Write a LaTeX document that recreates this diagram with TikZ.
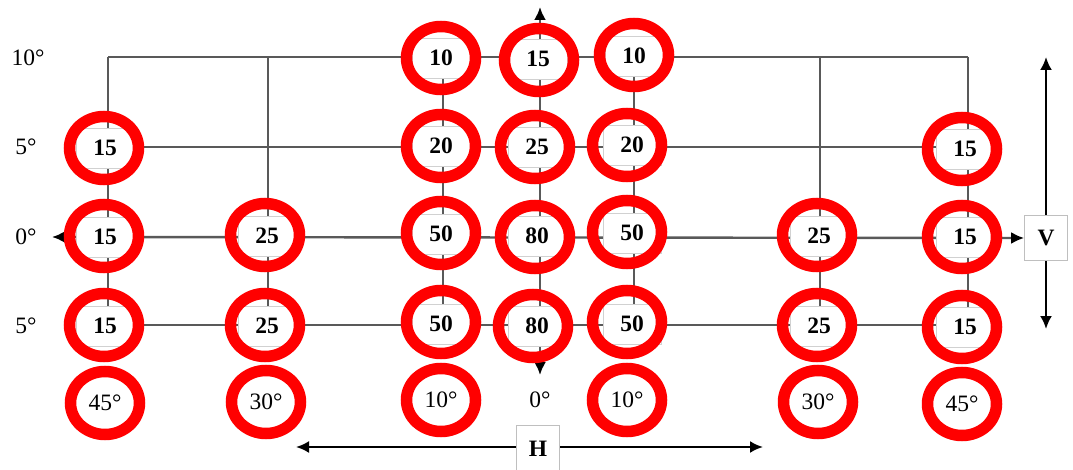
\documentclass[tikz,border=0pt]{standalone}
\usepackage{fontspec}
\setmainfont{Liberation Serif}
\usetikzlibrary{arrows.meta,shapes.geometric}
\tikzset{
  grid/.style={draw=black!65,line width=2.4pt},
  blkarrow/.style={draw=black,line width=2.2pt,{Latex[length=13pt,width=12pt]}-{Latex[length=13pt,width=12pt]}},
  gridarrow/.style={draw=black!65,line width=2.4pt,{Latex[length=13pt,width=12pt,color=black]}-{Latex[length=13pt,width=12pt,color=black]}},
  valbox/.style={fill=white,draw=black!18,line width=0.6pt,minimum width=58pt,minimum height=40pt,inner sep=0pt,font=\fontsize{23.5}{25}\selectfont\bfseries},
  degtext/.style={inner sep=1pt,font=\fontsize{23.5}{25}\selectfont},
  ring/.style={ellipse,draw=red,line width=11.5pt,minimum width=69pt,minimum height=63pt,inner sep=0pt},
  letterbox/.style={fill=white,draw=black!25,line width=0.8pt,minimum width=43pt,minimum height=45pt,inner sep=0pt,font=\fontsize{23.5}{25}\selectfont\bfseries}
}
\begin{document}
\begin{tikzpicture}[x=1pt,y=-1pt]
\useasboundingbox (0,0) rectangle (1073,470);
% grid coordinates
\foreach \c/\x in {1/108,2/268,3/443,4/540,5/634,6/820,7/968}{
  \foreach \r/\y in {1/57,2/147,3/237,4/325}{
    \coordinate (g\c\r) at (\x,\y);
  }
}
\coordinate (L) at (52,237);
\coordinate (T) at (540,7);
\coordinate (B) at (540,375);
\coordinate (Vt) at (1046,57);
\coordinate (Vb) at (1046,329);
\coordinate (Hl) at (296,447);
\coordinate (Hr) at (763,447);
% grid lines
\draw[grid] (g11) -- (g71);
\draw[grid] (g12) -- (g72);
\draw[grid] (g14) -- (g74);
\foreach \c in {1,2,3,5,6,7}{\draw[grid] (g\c1) -- (g\c4);}
\draw[gridarrow] (T) -- (B);
% V and H
\draw[blkarrow] (Vt) -- (Vb);
\node[letterbox] (V) at (1046,238) {V};
\draw[gridarrow] (L) -- (V.west);
\draw[blkarrow] (Hl) -- (Hr);
\node[letterbox,minimum height=48pt] (H) at (538,449) {H};
% row labels
\node[degtext] (r1) at (28,58) {10°};
\node[degtext] (r2) at (26,147) {5°};
\node[degtext] (r3) at (26,237) {0°};
\node[degtext] (r4) at (26,326) {5°};
% value boxes and rings
\foreach \n/\x/\y/\t in {
  a1/441/58/10, a2/538/59/15, a3/634/56/10,
  b1/105/148/15, b2/441/146/20, b3/537/147/25, b4/632/145/20, b5/965/149/15,
  c1/105/237/15, c2/267/236/25, c3/441/234/50, c4/537/236/80, c5/632/233/50, c6/819/236/25, c7/965/237/15,
  d1/105/326/15, d2/267/326/25, d3/441/324/50, d4/537/326/80, d5/632/324/50, d6/819/326/25, d7/965/327/15}{
  \node[valbox] (v\n) at (\x,\y) {\t};
}
\foreach \n/\x/\y in {
  a1/441/58, a2/539/60, a3/634/55,
  b1/104/148, b2/441/146, b3/535/147, b4/627/145, b5/962/149,
  c1/104/236, c2/265/235, c3/441/233, c4/535/237, c5/627/232, c6/817/235, c7/962/237,
  d1/104/325, d2/265/325, d3/441/322, d4/533/326, d5/627/322, d6/817/325, d7/962/327}{
  \node[ring] (e\n) at (\x,\y) {};
}
% column labels
\foreach \n/\x/\y/\t in {k1/105/403/45°, k2/266/402/30°, k3/441/400/10°, k5/627/400/10°, k6/818/402/30°, k7/962/404/45°}{
  \node[degtext] (t\n) at (\x,\y) {\t};
  \node[ring] (e\n) at (\x,\y) {};
}
\node[degtext] (tk4) at (540,400) {0°};
\end{tikzpicture}
\end{document}
